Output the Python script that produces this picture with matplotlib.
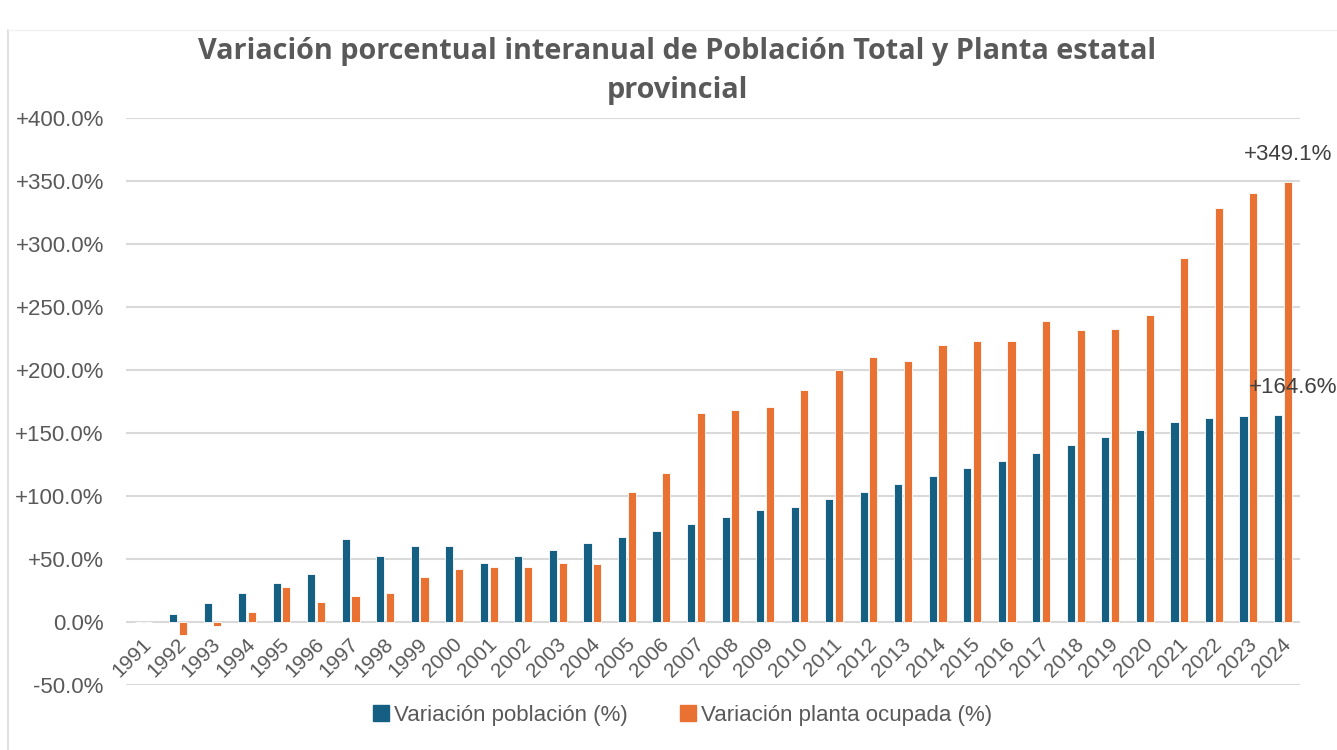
import matplotlib
matplotlib.use("Agg")
import matplotlib.pyplot as plt
from matplotlib.lines import Line2D
from matplotlib.ticker import FuncFormatter, MultipleLocator
import numpy as np

years = [str(y) for y in range(1991, 2025)]
var_poblacion = [0, 6.7, 15, 23.3, 31, 38, 66, 52.7, 60, 60, 47.1, 52.7, 57.4, 62.4,
                 67.5, 72.5, 77.8, 83.6, 88.9, 91.5, 97.3, 103.5, 109.7, 115.8, 121.9,
                 128, 134.4, 140.5, 146.6, 152.7, 158.8, 161.7, 163.3, 164.6]
var_planta = [0, -10, -3.4, 8.2, 28, 16.2, 20.4, 22.8, 35.7, 42.4, 43.7, 43.7, 46.8, 46.3,
              103.2, 118.3, 166, 168, 170.8, 184, 200, 210, 207.4, 219.9, 223,
              222.8, 239.2, 232.1, 232.6, 243.8, 289.2, 328.2, 340.4, 349.1]
series_names = ["Variación población (%)", "Variación planta ocupada (%)"]
title = "Variación porcentual interanual de Población Total y Planta estatal\nprovincial"

BLUE = "#156082"
ORANGE = "#E97132"
TXT = "#595959"
GRID = "#D9D9D9"
AX_FONT = ["Liberation Sans", "DejaVu Sans"]
TITLE_FONT = ["Open Sans", "DejaVu Sans"]
plt.rcParams["font.family"] = AX_FONT

fig = plt.figure(figsize=(13.37, 7.5), dpi=100)
ax = fig.add_axes([126/1337, 1 - 685/750, (1300-126)/1337, (685-118)/750])

x = np.arange(len(years))
w = 0.235
ax.bar(x - 0.135, var_poblacion, width=w, color=BLUE, edgecolor="white", linewidth=0.6, zorder=3)
ax.bar(x + 0.145, var_planta, width=w, color=ORANGE, edgecolor="white", linewidth=0.6, zorder=3)

ax.set_xlim(-0.5, len(years) - 0.5)
ax.set_ylim(-50, 400)
ax.yaxis.set_major_locator(MultipleLocator(50))
ax.yaxis.set_major_formatter(FuncFormatter(lambda v, p: ("+" if v > 0 else "") + f"{v:.1f}%"))
ax.grid(axis="y", color=GRID, linewidth=1.5, zorder=0)
for s in ax.spines.values():
    s.set_visible(False)
ax.tick_params(axis="y", length=0, pad=16, labelsize=16, labelcolor=TXT)
ax.set_xticks(x)
ax.set_xticklabels([])
ax.tick_params(axis="x", length=0)
for xi, yr in zip(x, years):
    ax.annotate(yr, xy=(xi - 0.04, 0), xytext=(0, -9), textcoords="offset points",
                rotation=45, ha="right", va="top", rotation_mode="anchor",
                fontsize=15, color=TXT)

ax.annotate(f"+{var_planta[-1]:.1f}%", xy=(x[-1] + 0.145, var_planta[-1]), xytext=(0, 12),
            textcoords="offset points", ha="center", va="bottom", fontsize=16, color="#404040")
ax.annotate(f"+{var_poblacion[-1]:.1f}%", xy=(x[-1] - 0.135, var_poblacion[-1]), xytext=(11, 12),
            textcoords="offset points", ha="center", va="bottom", fontsize=16, color="#404040")

fig.text(677/1337, 1 - 71/750, title, ha="center", va="center", fontsize=20.8,
         fontweight="bold", color=TXT, linespacing=1.45, family=TITLE_FONT)

handles = [Line2D([], [], marker="s", linestyle="none", markersize=11, color=BLUE),
           Line2D([], [], marker="s", linestyle="none", markersize=11, color=ORANGE)]
fig.legend(handles, series_names, loc="center", bbox_to_anchor=(681/1337, 1 - 715/750),
           ncol=2, frameon=False, fontsize=16, labelcolor=TXT, handletextpad=0.1,
           columnspacing=2.2, handlelength=1.0)

fig.add_artist(Line2D([8/1337, 8/1337], [0, 1 - 30/750], color=GRID, linewidth=1.2))
fig.add_artist(Line2D([8/1337, 1], [1 - 30/750, 1 - 30/750], color="#F2F2F2", linewidth=1.0))

fig.savefig("out.png", dpi=100, facecolor="white")
